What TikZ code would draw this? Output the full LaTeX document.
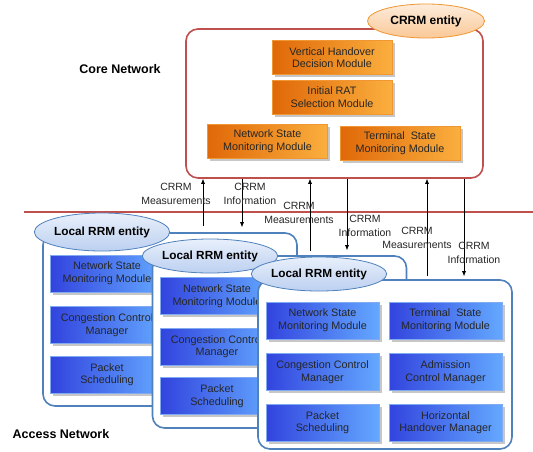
\documentclass[tikz,border=0pt]{standalone}
\usepackage{fontspec}
\setmainfont{Liberation Sans}
\usepackage{tikz}
\usetikzlibrary{positioning, arrows.meta, shapes.geometric, shadows}
\definecolor{cRed}{RGB}{192,80,77}
\definecolor{cBox}{RGB}{79,129,189}
\definecolor{cOrDark}{RGB}{224,104,8}
\definecolor{cOrLight}{RGB}{250,175,62}
\definecolor{cOrLine}{RGB}{240,150,50}
\definecolor{cBlDark}{RGB}{50,68,222}
\definecolor{cBlLight}{RGB}{100,168,255}
\definecolor{cBlLine}{RGB}{130,170,240}
\definecolor{cElTop}{RGB}{232,240,251}
\definecolor{cElBot}{RGB}{188,208,240}
\definecolor{cCrTop}{RGB}{253,236,220}
\definecolor{cCrBot}{RGB}{250,200,150}

\begin{document}
\begin{tikzpicture}[x=1pt, y=-1pt, >={Latex[length=5pt,width=4pt]},
    core/.style={draw=cRed, line width=1.6pt, rounded corners=12pt, minimum width=297pt, minimum height=149pt},
    lrrm/.style={draw=cBox, fill=white, line width=1.6pt, rounded corners=12pt, minimum width=254pt, minimum height=172pt},
    crrm/.style={ellipse, draw=cOrLine, line width=0.8pt, top color=cCrTop, bottom color=cCrBot, minimum width=117pt, minimum height=34pt, inner sep=0pt, font=\bfseries\fontsize{12}{14}\selectfont},
    entity/.style={ellipse, draw=cBox, line width=0.8pt, top color=cElTop, bottom color=cElBot, minimum width=117pt, minimum height=36pt, inner sep=0pt, font=\bfseries\fontsize{11.8}{14}\selectfont},
    orangemod/.style={rectangle, draw=cOrLine, line width=0.6pt, left color=cOrDark, right color=cOrLight, minimum width=120pt, minimum height=34pt, inner sep=1pt, align=center, text=black!85, font=\fontsize{10.8}{12.7}\selectfont, drop shadow={shadow xshift=2.5pt, shadow yshift=-2.5pt, fill=black!22, opacity=1}},
    bluemod/.style={rectangle, draw=cBlLine, line width=0.6pt, left color=cBlDark, right color=cBlLight, minimum width=113pt, minimum height=37pt, inner sep=1pt, align=center, text=black!85, font=\fontsize{10.8}{12.7}\selectfont, drop shadow={shadow xshift=2.5pt, shadow yshift=-2.5pt, fill=black!22, opacity=1}},
    lbl/.style={align=center, inner sep=0pt, text=black!85, font=\fontsize{10.5}{13.5}\selectfont},
    area/.style={font=\bfseries\fontsize{12.5}{14}\selectfont},
    sep/.style={draw=cRed, line width=2.8pt},
    link/.style={draw=black, line width=0.6pt}]
    \path[fill=white] (0,0) rectangle (533,451);
    \useasboundingbox (0,0) rectangle (533,451);

    % core network
    \node[core] (core) at (334.5,103.5) {};
    \node[crrm] (crrment) at (426,21) {CRRM entity};
    \node[orangemod] (vhd) at (332,57.5) {Vertical Handover\\Decision Module};
    \node[orangemod, below=5pt of vhd] (irs) {Initial RAT\\Selection Module};
    \node[orangemod] (cnsm) at (267.5,141.5) {Network State\\Monitoring Module};
    \node[orangemod] (ctsm) at (400,143) {Terminal\ \ State\\Monitoring Module};
    \node[area] (corelbl) at (120,69) {Core Network};

    \draw[sep] (24,212) -- (533,212);

    % local RRM entities
    \node[lrrm, minimum height=173pt] (lrrm1) at (170,319.5) {};
    \node[bluemod] (nsm1) at (107,273.5) {Network State\\Monitoring Module};
    \node[bluemod, below=14pt of nsm1] (cc1) {Congestion Control\\Manager};
    \node[bluemod, below=12pt of cc1] (ps1) {Packet\\Scheduling};
    \node[entity, minimum height=38pt] (ent1) at (102,232) {Local RRM entity};

    \node[lrrm] (lrrm2) at (279.5,342) {};
    \node[bluemod] (nsm2) at (217,296) {Network State\\Monitoring Module};
    \node[bluemod, below=13pt of nsm2] (cc2) {Congestion Control\\Manager};
    \node[bluemod, below=12pt of cc2] (ps2) {Packet\\Scheduling};
    \node[entity, minimum height=34pt] (ent2) at (210,256) {Local RRM entity};

    \node[lrrm, minimum height=169pt] (lrrm3) at (385,364.5) {};
    \node[bluemod] (nsm3) at (322.5,320.5) {Network State\\Monitoring Module};
    \node[bluemod, below=14pt of nsm3] (cc3) {Congestion Control\\Manager};
    \node[bluemod, below=13pt of cc3] (ps3) {Packet\\Scheduling};
    \node[bluemod] (tsm3) at (445.5,320.5) {Terminal\ \ State\\Monitoring Module};
    \node[bluemod, below=14pt of tsm3] (ac3) {Admission\\Control Manager};
    \node[bluemod, below=13pt of ac3] (hh3) {Horizontal\\Handover Manager};
    \node[entity, minimum height=34pt] (ent3) at (319,274) {Local RRM entity};

    \node[area] (acclbl) at (61,434) {Access Network};

    % CRRM signalling
    \coordinate (m1) at (203,0);
    \coordinate (i1) at (242,0);
    \coordinate (m2) at (310,0);
    \coordinate (i2) at (347,0);
    \coordinate (m3) at (427,0);
    \coordinate (i3) at (464,0);
    \draw[link, ->] ([yshift=6pt]lrrm1.north -| m1) -- (core.south -| m1);
    \draw[link, ->] (core.south -| i1) -- ([yshift=5pt]lrrm1.north -| i1);
    \draw[link, ->] ([yshift=4pt]lrrm2.north -| m2) -- (core.south -| m2);
    \draw[link, ->] (core.south -| i2) -- ([yshift=5pt]lrrm2.north -| i2);
    \draw[link, ->] ([yshift=3pt]lrrm3.north -| m3) -- (core.south -| m3);
    \draw[link, ->] (core.south -| i3) -- ([yshift=3pt]lrrm3.north -| i3);

    \node[lbl] (lm1) at (176,194) {CRRM\\Measurements};
    \node[lbl] (li1) at (250,194) {CRRM\\Information};
    \node[lbl] (lm2) at (299,213) {CRRM\\Measurements};
    \node[lbl] (li2) at (365,226) {CRRM\\Information};
    \node[lbl] (lm3) at (417,238) {CRRM\\Measurements};
    \node[lbl] (li3) at (474,253) {CRRM\\Information};
\end{tikzpicture}
\end{document}
